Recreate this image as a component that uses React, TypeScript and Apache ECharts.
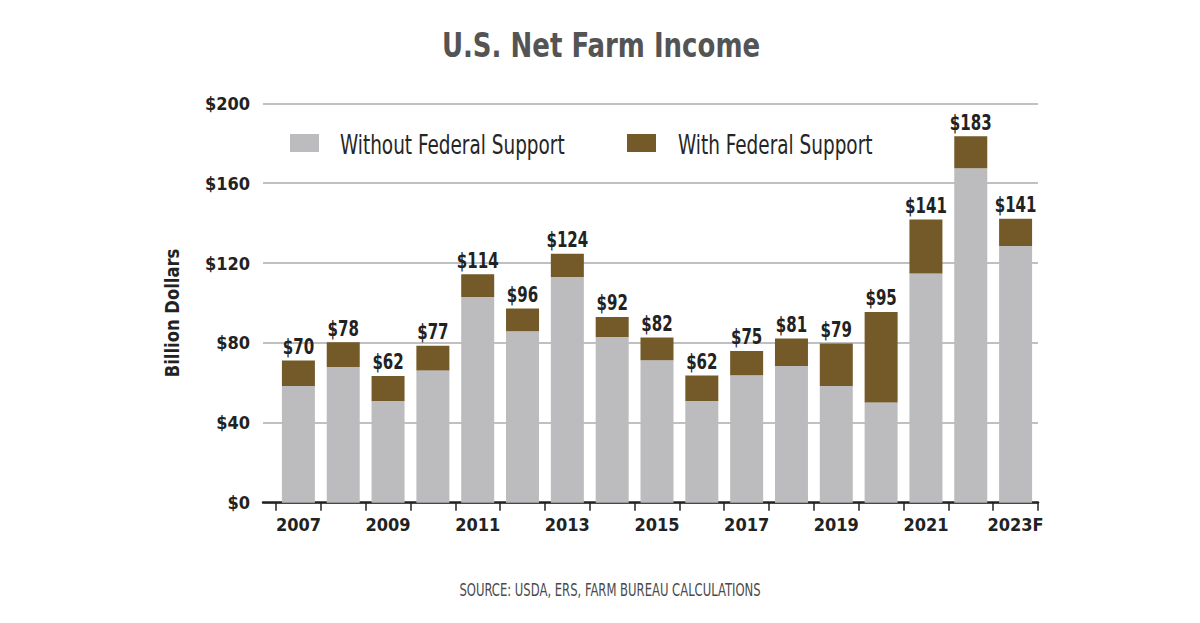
import React, { useEffect, useRef } from "react";
import * as echarts from "echarts";

const years = ["2007", "2008", "2009", "2010", "2011", "2012", "2013", "2014", "2015", "2016", "2017", "2018", "2019", "2020", "2021", "2022", "2023F"];
const withoutSupport = [58.4, 67.9, 50.9, 66.2, 103.0, 85.9, 113.0, 83.0, 71.3, 50.9, 63.8, 68.5, 58.5, 50.2, 114.8, 167.5, 128.5];
const federalSupport = [12.8, 12.4, 12.5, 12.4, 11.4, 11.3, 11.7, 10.0, 11.4, 12.8, 12.2, 13.7, 21.2, 45.3, 27.0, 16.0, 13.7];
const totalLabels = [70, 78, 62, 77, 114, 96, 124, 92, 82, 62, 75, 81, 79, 95, 141, 183, 141];
const yTicks = [0, 40, 80, 120, 160, 200];
const seriesNames = ["Without Federal Support", "With Federal Support"];

const FONT = "'DejaVu Sans Condensed', 'Liberation Sans Narrow', 'Roboto', sans-serif";
const GRAY = "#bcbcbf";
const BROWN = "#735a28";

export default function App() {
  const ref = useRef<HTMLDivElement>(null);
  useEffect(() => {
    if (!ref.current) return;
    const chart = echarts.init(ref.current, undefined, { renderer: "svg" });
    const labelData = years.map((_, i) => [i, withoutSupport[i] + federalSupport[i], totalLabels[i]]);
    chart.setOption({
      animation: false,
      backgroundColor: "#ffffff",
      textStyle: { fontFamily: FONT },
      graphic: [
        {
          type: "text",
          x: 601,
          y: 45,
          scaleX: 0.85,
          style: { text: "U.S. Net Farm Income", font: `bold 34px ${FONT}`, fill: "#545454", align: "center", verticalAlign: "middle" },
        },
        {
          type: "text",
          x: 172,
          y: 313,
          rotation: Math.PI / 2,
          scaleX: 0.96,
          style: { text: "Billion Dollars", font: `bold 19px ${FONT}`, fill: "#222", align: "center", verticalAlign: "middle" },
        },
        { type: "rect", shape: { x: 290, y: 134, width: 29, height: 18 }, style: { fill: GRAY } },
        {
          type: "text",
          x: 340,
          y: 145,
          scaleX: 0.76,
          style: { text: seriesNames[0], font: `27px ${FONT}`, fill: "#262626", align: "left", verticalAlign: "middle" },
        },
        { type: "rect", shape: { x: 627, y: 134, width: 29, height: 18 }, style: { fill: BROWN } },
        {
          type: "text",
          x: 678,
          y: 145,
          scaleX: 0.76,
          style: { text: seriesNames[1], font: `27px ${FONT}`, fill: "#262626", align: "left", verticalAlign: "middle" },
        },
        {
          type: "text",
          x: 610,
          y: 590,
          scaleX: 0.76,
          style: { text: "SOURCE: USDA, ERS, FARM BUREAU CALCULATIONS", font: `17px ${FONT}`, fill: "#4a4a4a", align: "center", verticalAlign: "middle" },
        },
      ],
      grid: [
        { left: 263, right: 162, top: 103.3, bottom: 120.3 },
        { left: 276, right: 162, top: 103.3, bottom: 120.3 },
      ],
      xAxis: [
        {
          gridIndex: 0,
          type: "value",
          min: 0,
          max: 1,
          axisLine: { show: true, lineStyle: { color: "#222", width: 2.5 } },
          axisTick: { show: false },
          axisLabel: { show: false },
          splitLine: { show: false },
        },
        {
          gridIndex: 1,
          type: "category",
          data: years,
          axisLine: { show: false },
          axisTick: { show: true, interval: 0, length: 8, lineStyle: { color: "#222", width: 1.5 } },
          axisLabel: { interval: 1, fontFamily: FONT, fontSize: 18, fontWeight: "bold", color: "#222", margin: 13 },
        },
      ],
      yAxis: [
        {
          gridIndex: 0,
          type: "value",
          min: 0,
          max: 200,
          interval: 40,
          axisLine: { show: false },
          axisTick: { show: false },
          axisLabel: {
            fontFamily: FONT,
            fontSize: 18,
            fontWeight: "bold",
            color: "#222",
            margin: 13,
            formatter: (v: number) => (yTicks.includes(v) ? "$" + v : ""),
          },
          splitLine: { show: true, lineStyle: { color: "#ababab", width: 1.5 } },
        },
        {
          gridIndex: 1,
          type: "value",
          min: 0,
          max: 200,
          interval: 40,
          show: false,
          splitLine: { show: false },
        },
      ],
      series: [
        {
          name: seriesNames[0],
          type: "bar",
          stack: "total",
          xAxisIndex: 1,
          yAxisIndex: 1,
          barWidth: 33,
          itemStyle: { color: GRAY },
          data: withoutSupport,
        },
        {
          name: seriesNames[1],
          type: "bar",
          stack: "total",
          xAxisIndex: 1,
          yAxisIndex: 1,
          barWidth: 33,
          itemStyle: { color: BROWN },
          data: federalSupport,
        },
        {
          name: "Total",
          type: "custom",
          xAxisIndex: 1,
          yAxisIndex: 1,
          clip: false,
          silent: true,
          encode: { x: 0, y: 1 },
          data: labelData,
          renderItem: (params: any, api: any) => {
            const pt = api.coord([api.value(0), api.value(1)]);
            return {
              type: "text",
              x: pt[0],
              y: pt[1] - 3,
              scaleX: 0.76,
              style: {
                text: "$" + api.value(2),
                font: `bold 22px ${FONT}`,
                fill: "#222",
                align: "center",
                verticalAlign: "bottom",
              },
            };
          },
        },
      ],
    });
    return () => chart.dispose();
  }, []);
  return <div ref={ref} style={{ width: 1200, height: 623, position: "absolute", left: 0, top: 0 }} />;
}
